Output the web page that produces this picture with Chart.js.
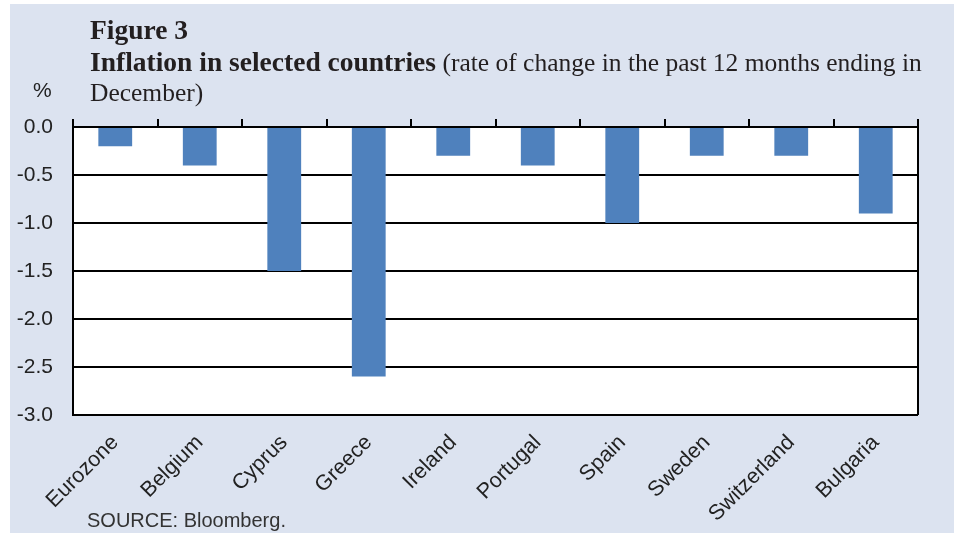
<!DOCTYPE html>
<html>
<head>
<meta charset="utf-8">
<script src="https://cdn.jsdelivr.net/npm/chart.js@4"></script>
<style>
  html, body { margin: 0; padding: 0; background: #fff; }
  #wrap { width: 958px; height: 533px; }
</style>
</head>
<body>
<div id="wrap"><canvas id="chartData" width="958" height="533"></canvas></div>
<script>
let countries = ["Eurozone", "Belgium", "Cyprus", "Greece", "Ireland", "Portugal", "Spain", "Sweden", "Switzerland", "Bulgaria"];
let inflation = [-0.2, -0.4, -1.5, -2.6, -0.3, -0.4, -1.0, -0.3, -0.3, -0.9];
let yTicks = [0, -0.5, -1, -1.5, -2, -2.5, -3];

let panelBg = "#dce3f0";
let barColor = "#4f81bd";
let sans = "'Liberation Sans', Arial, sans-serif";
let serif = "'Liberation Serif', 'Times New Roman', serif";

// background panel, heading, % sign, source line, frame
const decor = {
    id: "decor",
    beforeDraw(chart) {
        const ctx = chart.ctx;
        ctx.save();
        ctx.fillStyle = "#fff";
        ctx.fillRect(0, 0, chart.width, chart.height);
        ctx.fillStyle = panelBg;
        ctx.fillRect(10, 4, 944, 529);
        const a = chart.chartArea;
        ctx.fillStyle = "#fff";
        ctx.fillRect(a.left, a.top, a.right - a.left, a.bottom - a.top);

        ctx.fillStyle = "#231f20";
        ctx.textBaseline = "alphabetic";
        ctx.textAlign = "left";
        ctx.font = "bold 27.5px " + serif;
        ctx.fillText("Figure 3", 90, 39);
        let bold = "Inflation in selected countries";
        ctx.fillText(bold, 90, 71);
        let w = ctx.measureText(bold).width;
        ctx.font = "25.5px " + serif;
        ctx.fillText(" (rate of change in the past 12 months ending in", 90 + w, 71);
        ctx.fillText("December)", 90, 101);

        ctx.font = "21px " + sans;
        ctx.fillStyle = "#222";
        ctx.fillText("%", 33, 97);
        ctx.font = "20px " + sans;
        ctx.fillStyle = "#333";
        ctx.fillText("SOURCE: Bloomberg.", 87, 527);
        ctx.restore();
    },
    afterDraw(chart) {
        const a = chart.chartArea;
        const ctx = chart.ctx;
        ctx.save();
        ctx.strokeStyle = "#000";
        ctx.lineWidth = 2;
        ctx.beginPath();
        ctx.moveTo(a.right, a.top);
        ctx.lineTo(a.right, a.bottom);
        ctx.stroke();
        ctx.restore();
    }
};

const ctx = document.getElementById("chartData").getContext("2d");
new Chart(ctx, {
    type: "bar",
    data: {
        labels: countries,
        datasets: [{
            label: "Inflation",
            data: inflation,
            backgroundColor: barColor,
            borderWidth: 0,
            barPercentage: 0.4,
            categoryPercentage: 1.0,
            xAxisID: "x",
            yAxisID: "y"
        }]
    },
    options: {
        responsive: false,
        animation: false,
        layout: { padding: { left: 0, top: 119, right: 40, bottom: 0 } },
        plugins: { legend: { display: false }, tooltip: { enabled: false } },
        scales: {
            x: {
                position: "bottom",
                grid: { display: false, drawTicks: false },
                border: { display: false },
                ticks: {
                    color: "#222",
                    font: { family: sans, size: 21.5 },
                    maxRotation: 45,
                    minRotation: 45,
                    padding: 15,
                    autoSkip: false
                },
                afterFit(scale) { scale.height = 118; }
            },
            xTop: {
                position: "top",
                type: "category",
                labels: countries,
                offset: true,
                grid: { offset: true, drawOnChartArea: false, drawTicks: true, tickLength: 8, color: "#000", lineWidth: 2 },
                border: { display: false },
                ticks: { display: false },
                afterFit(scale) { scale.height = 8; }
            },
            y: {
                min: -3,
                max: 0,
                afterBuildTicks(scale) { scale.ticks = yTicks.map(v => ({ value: v })); },
                grid: { color: "#000", lineWidth: 2, drawTicks: false },
                border: { display: true, color: "#000", width: 2 },
                ticks: {
                    color: "#222",
                    font: { family: sans, size: 21 },
                    padding: 20,
                    callback: v => Number(v).toFixed(1)
                },
                afterFit(scale) { scale.width = 73; }
            }
        }
    },
    plugins: [decor]
});
</script>
</body>
</html>
